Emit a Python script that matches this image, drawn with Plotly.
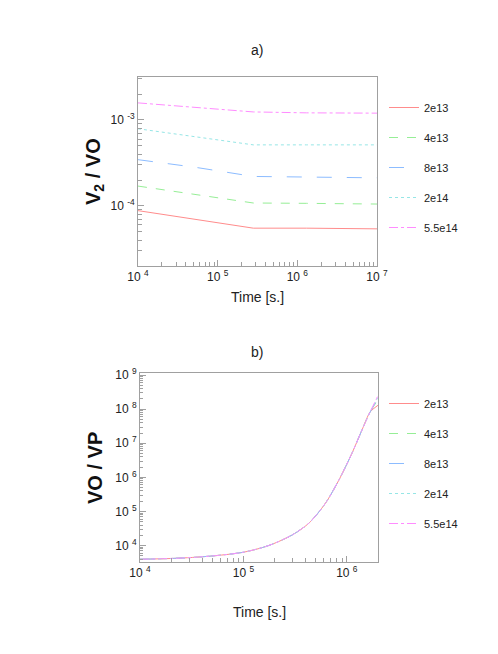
import plotly.graph_objects as go

labels = ["2e13", "4e13", "8e13", "2e14", "5.5e14"]
colors = ["#ff8c8c", "#96ee96", "#8cbcff", "#96e6e6", "#ff8cff"]
dashes = ["solid", "dash", "longdash", "dot", "dashdot"]

# a) V2 / VO vs time
time_a = [1e4, 5.4e4, 2.8e5, 1.3e6, 1e7]
v2_vo = {
    "2e13": [8.8e-5, 7.0e-5, 5.5e-5, 5.5e-5, 5.4e-5],
    "4e13": [1.7e-4, 1.36e-4, 1.08e-4, 1.07e-4, 1.05e-4],
    "8e13": [3.45e-4, 2.8e-4, 2.2e-4, 2.16e-4, 2.12e-4],
    "2e14": [7.9e-4, 6.35e-4, 5.13e-4, 5.13e-4, 5.13e-4],
    "5.5e14": [1.58e-3, 1.39e-3, 1.24e-3, 1.21e-3, 1.2e-3],
}

# b) VO / VP vs time
time_b = [1e4, 2e4, 3.2e4, 5.07e4, 7.3e4, 1e5, 1.43e5, 1.9e5, 2.95e5,
          4.3e5, 6.2e5, 8.4e5, 1.12e6, 1.4e6, 1.68e6, 2e6]
vo_common = [3.98e3, 4.2e3, 4.5e3, 5.0e3, 5.6e3, 6.4e3, 8.3e3, 1.1e4, 2.04e4,
             4.57e4, 1.74e5, 8.5e5, 5.1e6, 2.45e7, 8.3e7]
vo_end = {"2e13": 1.3e8, "4e13": 1.9e8, "8e13": 2.1e8, "2e14": 2.2e8, "5.5e14": 2.5e8}

FONT = "Liberation Sans, Arial, sans-serif"
W, H = 498, 654
OFF = 8  # page body margin


def px(p):
    return (p - OFF) / W


def py(p):
    return 1 - (p - OFF) / H


fig = go.Figure()
for lab, col, d in zip(labels, colors, dashes):
    fig.add_trace(go.Scatter(x=time_a, y=v2_vo[lab], mode="lines", name=lab,
                             line=dict(color=col, width=1, dash=d),
                             xaxis="x", yaxis="y", legend="legend",
                             legendgroup="a" + lab))
for lab, col, d in zip(labels, colors, dashes):
    fig.add_trace(go.Scatter(x=time_b, y=vo_common + [vo_end[lab]], mode="lines",
                             name=lab, line=dict(color=col, width=1, dash=d,
                                                 shape="spline", smoothing=0.8),
                             xaxis="x2", yaxis="y2", legend="legend2",
                             legendgroup="b" + lab))


def minor_vals(lo, hi):
    return [m * 10 ** e for e in range(lo, hi) for m in range(2, 10)]


axis_common = dict(type="log", showline=True, mirror=True, linecolor="#a0a0a0",
                   linewidth=1, showgrid=False, zeroline=False, ticks="inside",
                   ticklen=6, tickcolor="#a0a0a0", automargin=False,
                   tickfont=dict(size=12, color="#222"))

fig.update_layout(
    width=W, height=H,
    margin=dict(l=0, r=0, t=0, b=0, autoexpand=False),
    paper_bgcolor="white", plot_bgcolor="white",
    font=dict(family=FONT, color="#222"),
    showlegend=True,
    xaxis=dict(axis_common, domain=[px(138), px(377)], anchor="y", range=[4, 7],
               tickvals=[1e4, 1e5, 1e6, 1e7],
               ticktext=["10 <sup>4</sup>", "10 <sup>5</sup>", "10 <sup>6</sup>", "10 <sup>7</sup>"],
               minor=dict(tickvals=minor_vals(4, 7), ticks="inside", ticklen=4, tickcolor="#a0a0a0")),
    yaxis=dict(axis_common, domain=[py(266), py(77)], anchor="x", range=[-4.7, -2.5],
               tickvals=[1e-4, 1e-3],
               ticktext=["10 <sup>-4</sup>", "10 <sup>-3</sup>"],
               minor=dict(tickvals=minor_vals(-5, -2), ticks="inside", ticklen=4, tickcolor="#a0a0a0")),
    xaxis2=dict(axis_common, domain=[px(140), px(378)], anchor="y2", range=[4, 6.301],
                tickvals=[1e4, 1e5, 1e6],
                ticktext=["10 <sup>4</sup>", "10 <sup>5</sup>", "10 <sup>6</sup>"],
                minor=dict(tickvals=minor_vals(4, 7), ticks="inside", ticklen=4, tickcolor="#a0a0a0")),
    yaxis2=dict(axis_common, domain=[py(562), py(373)], anchor="x2", range=[3.52, 9.06],
                tickvals=[1e4, 1e5, 1e6, 1e7, 1e8, 1e9],
                ticktext=["10 <sup>%d</sup>" % e for e in range(4, 10)],
                minor=dict(tickvals=minor_vals(3, 10), ticks="inside", ticklen=3, tickcolor="#a0a0a0")),
    legend=dict(x=px(384), y=py(93), xanchor="left", yanchor="top", tracegroupgap=11,
                font=dict(size=11, color="#222"), bgcolor="rgba(0,0,0,0)", itemwidth=30),
    legend2=dict(x=px(384), y=py(389), xanchor="left", yanchor="top", tracegroupgap=11,
                 font=dict(size=11, color="#222"), bgcolor="rgba(0,0,0,0)", itemwidth=30),
)

ann = dict(xref="paper", yref="paper", showarrow=False, xanchor="center", yanchor="middle")
fig.add_annotation(ann, text="a)", x=px(257), y=py(50), font=dict(size=14))
fig.add_annotation(ann, text="b)", x=px(257), y=py(352), font=dict(size=14))
fig.add_annotation(ann, text="Time [s.]", x=px(257), y=py(297), font=dict(size=14))
fig.add_annotation(ann, text="Time [s.]", x=px(259), y=py(612), font=dict(size=14))
fig.add_annotation(ann, text="<b>V<sub>2</sub> / VO</b>", x=px(95), y=py(172),
                   textangle=-90, font=dict(size=20, color="#111"))
fig.add_annotation(ann, text="<b>VO / VP</b>", x=px(95), y=py(468),
                   textangle=-90, font=dict(size=20, color="#111"))

fig.write_html("out.html")
